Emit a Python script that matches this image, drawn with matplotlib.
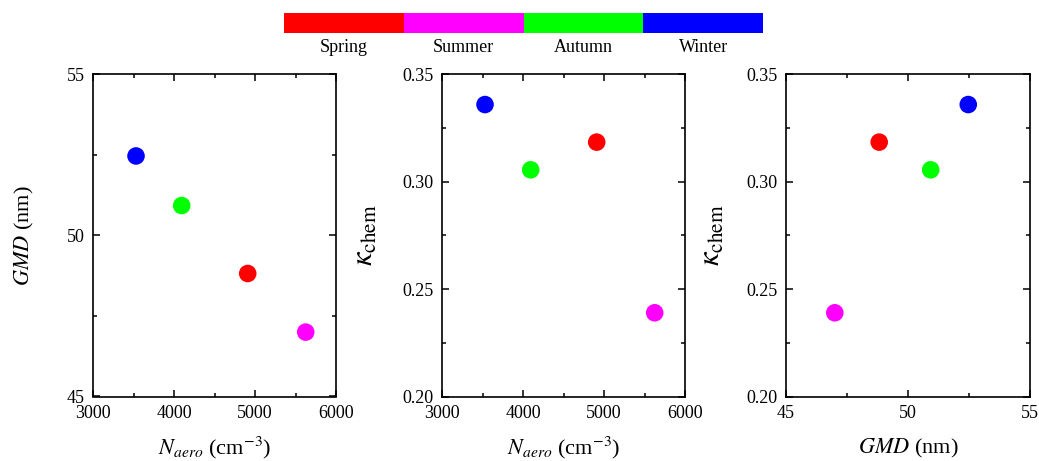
import numpy as np
import matplotlib.pyplot as plt
from matplotlib.ticker import MultipleLocator

plt.rcParams['font.family'] = ['Liberation Serif', 'DejaVu Serif']
plt.rcParams['mathtext.fontset'] = 'stix'

# data (Spring, Summer, Autumn, Winter)
seasons = ['Spring', 'Summer', 'Autumn', 'Winter']
colors = ['#ff0000', '#ff00ff', '#00ff00', '#0000ff']
n_aero = [4910, 5626, 4095, 3531]
gmd = [48.82, 47.0, 50.93, 52.47]
kappa_chem = [0.3185, 0.239, 0.3056, 0.336]

fig = plt.figure(figsize=(10.39, 4.61), dpi=100)
W, H = 1039, 461

def px_axes(l, t, r, b):
    return fig.add_axes([l / W, 1 - b / H, (r - l) / W, (b - t) / H])

ax1 = px_axes(93, 74.5, 336, 396.5)
ax2 = px_axes(442, 74.5, 685, 396.5)
ax3 = px_axes(786, 74.5, 1030, 396.5)

panels = [
    (ax1, n_aero, gmd, (3000, 6000), (45, 55), 1000, 500, 5, 2.5),
    (ax2, n_aero, kappa_chem, (3000, 6000), (0.20, 0.35), 1000, 500, 0.05, 0.025),
    (ax3, gmd, kappa_chem, (45, 55), (0.20, 0.35), 5, 2.5, 0.05, 0.025),
]
for ax, xs, ys, xl, yl, xmaj, xmin, ymaj, ymin in panels:
    ax.scatter(xs, ys, c=colors, s=160, edgecolors='none', zorder=3)
    ax.set_xlim(*xl)
    ax.set_ylim(*yl)
    ax.xaxis.set_major_locator(MultipleLocator(xmaj))
    ax.xaxis.set_minor_locator(MultipleLocator(xmin))
    ax.yaxis.set_major_locator(MultipleLocator(ymaj))
    ax.yaxis.set_minor_locator(MultipleLocator(ymin))
    ax.tick_params(which='both', direction='in', top=True, right=True,
                   labelsize=13, width=1.1, pad=6)
    ax.tick_params(which='major', length=5)
    ax.tick_params(which='minor', length=3)
    for s in ax.spines.values():
        s.set_linewidth(1.2)

ax2.yaxis.set_major_formatter(plt.FormatStrFormatter('%.2f'))
ax3.yaxis.set_major_formatter(plt.FormatStrFormatter('%.2f'))

ax1.set_ylabel(r'$GMD$ (nm)', fontsize=16, labelpad=22)
ax1.set_xlabel(r'$N_{aero}$ (cm$^{-3}$)', fontsize=16, labelpad=9)
ax2.set_ylabel(r'$\kappa_{\rm chem}$', fontsize=22, labelpad=16)
ax2.set_xlabel(r'$N_{aero}$ (cm$^{-3}$)', fontsize=16, labelpad=9)
ax3.set_ylabel(r'$\kappa_{\rm chem}$', fontsize=22, labelpad=14)
ax3.set_xlabel(r'$GMD$ (nm)', fontsize=16, labelpad=11)

# season colour bar at the top
cax = px_axes(284, 13, 763, 33)
pos = np.arange(len(seasons))
cax.bar(pos, 1, width=1, color=colors, align='edge')
cax.set_xlim(0, len(seasons))
cax.set_ylim(0, 1)
cax.axis('off')
for p, name in zip(pos, seasons):
    cax.text(p + 0.5, -0.3, name, ha='center', va='top', fontsize=13)

fig.savefig('out.png', dpi=100)
